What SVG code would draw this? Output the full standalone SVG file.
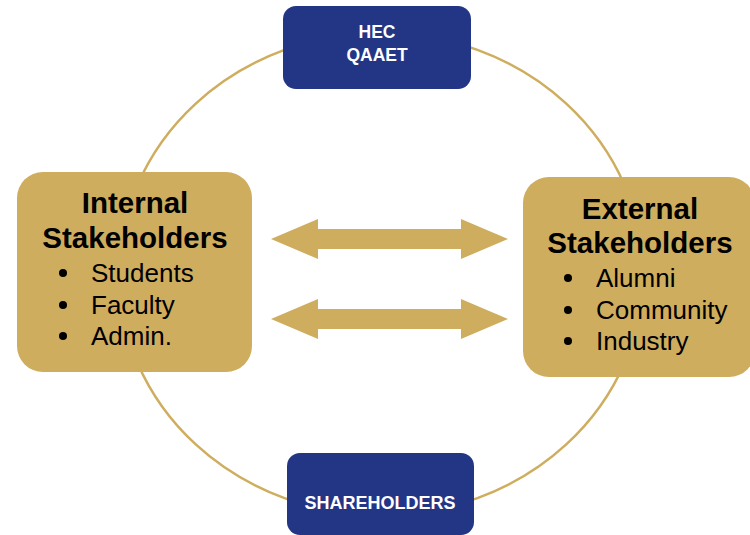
<svg xmlns="http://www.w3.org/2000/svg" width="750" height="535" viewBox="0 0 750 535">
<defs>
<style>
.ring{fill:none;stroke:#cfad5e;stroke-width:2.5}
.gold{fill:#cfad5e}
.navy{fill:#233585}
.lbl{font-family:"Liberation Sans",Arial,sans-serif;font-weight:bold;fill:#ffffff;text-anchor:middle}
.title{font-family:"Liberation Sans",Arial,sans-serif;font-weight:bold;font-size:29.5px;fill:#000000;text-anchor:middle}
.item{font-family:"Liberation Sans",Arial,sans-serif;font-size:26px;fill:#000000}
.dot{fill:#000000}
</style>
</defs>
<rect width="750" height="535" fill="#ffffff"/>
<g id="connectors">
<ellipse class="ring" cx="381" cy="274" rx="262" ry="241"/>
<path class="gold" d="M271,239 L318,219 L318,229 L461,229 L461,219 L508,239 L461,259 L461,249 L318,249 L318,259 Z"/>
<path class="gold" d="M271,319 L318,299 L318,309 L461,309 L461,299 L508,319 L461,339 L461,329 L318,329 L318,339 Z"/>
</g>
<g id="hec">
<rect class="navy" x="283" y="6" width="188" height="83" rx="13"/>
<text class="lbl" x="377" y="38" font-size="17.5">HEC</text>
<text class="lbl" x="377" y="61" font-size="17.5">QAAET</text>
</g>
<g id="shareholders">
<rect class="navy" x="287" y="453" width="187" height="82" rx="13"/>
<text class="lbl" x="380" y="509" font-size="18">SHAREHOLDERS</text>
</g>
<g id="internal">
<rect class="gold" x="17" y="172" width="235" height="200" rx="26"/>
<text class="title" x="135" y="213">Internal</text>
<text class="title" x="135" y="248">Stakeholders</text>
<circle class="dot" cx="63" cy="273" r="4"/>
<text class="item" x="91" y="282">Students</text>
<circle class="dot" cx="63" cy="305" r="4"/>
<text class="item" x="91" y="314">Faculty</text>
<circle class="dot" cx="63" cy="336" r="4"/>
<text class="item" x="91" y="345">Admin.</text>
</g>
<g id="external">
<rect class="gold" x="523" y="177" width="232" height="200" rx="26"/>
<text class="title" x="640" y="219">External</text>
<text class="title" x="640" y="253">Stakeholders</text>
<circle class="dot" cx="568" cy="278" r="4"/>
<text class="item" x="596" y="287">Alumni</text>
<circle class="dot" cx="568" cy="310" r="4"/>
<text class="item" x="596" y="319">Community</text>
<circle class="dot" cx="568" cy="341" r="4"/>
<text class="item" x="596" y="350">Industry</text>
</g>
</svg>
